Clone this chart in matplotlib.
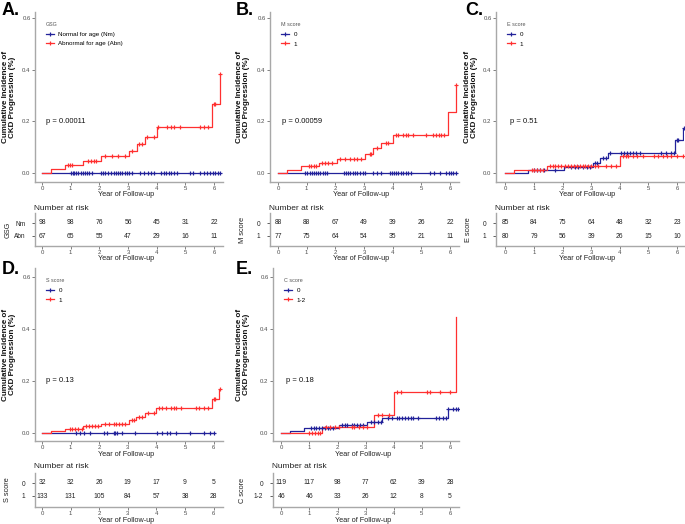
import numpy as np
import matplotlib
matplotlib.use("Agg")
import matplotlib.pyplot as plt
from matplotlib.lines import Line2D

plt.rcParams['font.family'] = ['Liberation Sans', 'DejaVu Sans']

W, H = 685, 524
BLUE = '#22229a'
RED = '#ff3030'
AXIS_GRAY = '#a8a8a8'
TICK_GRAY = '#4d4d4d'

years = [0, 1, 2, 3, 4, 5, 6]
y_ticks = [0.0, 0.2, 0.4, 0.6]
ylab_text = 'Cumulative Incidence of\nCKD Progression (%)'
xlab_text = 'Year of Follow-up'

# ---------------- Panel A : GSG ----------------
a_title = 'GSG'
a_labels = ['Normal for age (Nm)', 'Abnormal for age (Abn)']
a_table_labels = ['Nm', 'Abn']
a_pval = 'p = 0.00011'
a_blue_event_t = []
a_blue_event_v = []
a_blue_censor = [1.0, 1.07, 1.13, 1.2, 1.27, 1.35, 1.42, 1.5, 1.58, 1.65, 1.75, 2.05, 2.12, 2.2,
                 2.3, 2.4, 2.5, 2.58, 2.65, 2.72, 2.8, 2.88, 2.95, 3.05, 3.15, 3.42, 3.55, 3.7,
                 3.8, 3.9, 4.15, 4.25, 4.33, 4.42, 4.5, 4.6, 4.72, 5.15, 5.27, 5.52, 5.65, 5.75,
                 5.85, 5.95, 6.05, 6.15, 6.2]
a_red_event_t = [0.31, 0.80, 1.44, 2.05, 3.05, 3.30, 3.59, 4.00, 5.94, 6.20]
a_red_event_v = [0.015, 0.030, 0.046, 0.066, 0.087, 0.112, 0.140, 0.178, 0.266, 0.383]
a_red_censor = [0.9, 0.97, 1.05, 1.6, 1.7, 1.8, 1.9, 2.2, 2.45, 2.65, 2.9, 3.15, 3.38, 3.48,
                3.65, 3.9, 4.05, 4.35, 4.5, 4.6, 4.8, 5.5, 5.65, 5.8, 6.0, 6.05, 6.22]
a_risk_blue = [98, 98, 76, 56, 45, 31, 22]
a_risk_red = [67, 65, 55, 47, 29, 16, 11]

# ---------------- Panel B : M score ----------------
b_title = 'M score'
b_labels = ['0', '1']
b_table_labels = ['0', '1']
b_pval = 'p = 0.00059'
b_blue_event_t = []
b_blue_event_v = []
b_blue_censor = [0.95, 1.02, 1.1, 1.17, 1.25, 1.32, 1.4, 1.48, 1.56, 1.64, 1.72, 2.3, 2.37, 2.45,
                 2.52, 2.6, 2.68, 2.75, 2.85, 2.95, 3.05, 3.3, 3.45, 3.6, 3.9, 3.97, 4.05, 4.12,
                 4.2, 4.28, 4.36, 4.45, 4.55, 4.65, 5.3, 5.45, 5.65, 5.85, 5.95, 6.02, 6.1, 6.2]
b_red_event_t = [0.31, 0.80, 1.44, 2.05, 3.05, 3.30, 3.59, 4.00, 5.94, 6.20]
b_red_event_v = [0.013, 0.028, 0.040, 0.055, 0.073, 0.095, 0.117, 0.146, 0.235, 0.341]
b_red_censor = [1.07, 1.15, 1.25, 1.33, 1.55, 1.65, 1.75, 1.9, 2.15, 2.35, 2.5, 2.65, 2.75, 2.9,
                3.2, 3.25, 3.45, 3.75, 3.85, 4.1, 4.2, 4.35, 4.45, 4.55, 4.7, 5.15, 5.4, 5.5,
                5.6, 5.7, 5.8, 6.22]
b_risk_blue = [88, 88, 67, 49, 39, 26, 22]
b_risk_red = [77, 75, 64, 54, 35, 21, 11]

# ---------------- Panel C : E score ----------------
c_title = 'E score'
c_labels = ['0', '1']
c_table_labels = ['0', '1']
c_pval = 'p = 0.51'
c_blue_event_t = [0.80, 2.05, 3.05, 3.30, 3.59, 5.94, 6.20]
c_blue_event_v = [0.012, 0.024, 0.040, 0.059, 0.078, 0.127, 0.174]
c_blue_censor = [1.0, 1.1, 1.2, 1.35, 1.75, 2.3, 2.45, 2.55, 2.7, 2.85, 2.95, 3.15, 3.2, 3.4,
                 3.5, 3.65, 4.05, 4.15, 4.25, 4.35, 4.45, 4.55, 4.7, 5.45, 5.6, 5.8, 5.9, 6.0,
                 6.05, 6.25]
c_red_event_t = [0.31, 1.44, 4.00]
c_red_event_v = [0.0125, 0.028, 0.066]
c_red_censor = [0.92, 1.0, 1.1, 1.2, 1.3, 1.55, 1.65, 1.75, 1.85, 1.95, 2.1, 2.2, 2.3, 2.4, 2.5,
                2.6, 2.7, 2.8, 2.9, 3.0, 3.15, 3.25, 3.5, 3.7, 3.85, 4.1, 4.2, 4.3, 4.45, 4.6,
                4.8, 5.2, 5.35, 5.5, 5.65, 5.8, 6.0, 6.2]
c_risk_blue = [85, 84, 75, 64, 48, 32, 23]
c_risk_red = [80, 79, 56, 39, 26, 15, 10]

# ---------------- Panel D : S score ----------------
d_title = 'S score'
d_labels = ['0', '1']
d_table_labels = ['0', '1']
d_pval = 'p = 0.13'
d_blue_event_t = []
d_blue_event_v = []
d_blue_censor = [1.2, 1.33, 1.45, 1.68, 2.15, 2.27, 2.5, 2.56, 2.62, 2.8, 3.26, 4.02, 4.2, 4.37,
                 4.49, 4.67, 5.19, 5.66, 5.87, 6.01]
d_red_event_t = [0.31, 0.80, 1.44, 2.05, 3.05, 3.30, 3.59, 4.00, 5.94, 6.20]
d_red_event_v = [0.0077, 0.015, 0.026, 0.036, 0.049, 0.062, 0.077, 0.095, 0.131, 0.171]
d_red_censor = [0.98, 1.05, 1.15, 1.25, 1.38, 1.55, 1.65, 1.75, 1.85, 1.95, 2.2, 2.35, 2.5, 2.6,
                2.7, 2.8, 2.9, 3.15, 3.2, 3.4, 3.5, 3.7, 3.9, 4.1, 4.2, 4.35, 4.5, 4.6, 4.7,
                4.85, 5.4, 5.5, 5.65, 5.8, 6.0, 6.05, 6.22]
d_risk_blue = [32, 32, 26, 19, 17, 9, 5]
d_risk_red = [133, 131, 105, 84, 57, 38, 28]

# ---------------- Panel E : C score ----------------
e_title = 'C score'
e_labels = ['0', '1-2']
e_table_labels = ['0', '1-2']
e_pval = 'p = 0.18'
e_blue_event_t = [0.31, 0.80, 2.05, 3.05, 3.59, 5.94]
e_blue_event_v = [0.009, 0.019, 0.029, 0.042, 0.056, 0.092]
e_blue_censor = [1.05, 1.15, 1.25, 1.35, 1.45, 1.55, 1.65, 1.75, 1.85, 2.15, 2.25, 2.35, 2.5,
                 2.6, 2.7, 2.8, 2.9, 3.2, 3.3, 3.45, 3.55, 3.8, 3.95, 4.1, 4.2, 4.3, 4.4, 4.5,
                 4.6, 4.7, 4.85, 5.5, 5.6, 5.75, 5.85, 5.95, 6.1, 6.2, 6.3]
e_red_event_t = [1.44, 3.30, 4.00, 6.20]
e_red_event_v = [0.024, 0.070, 0.158, 0.446]
e_red_censor = [1.0, 1.1, 1.2, 1.3, 1.38, 1.6, 1.75, 1.9, 2.05, 2.5, 2.6, 2.75, 2.9, 3.05, 3.45,
                3.6, 3.85, 4.1, 4.25, 5.2, 5.3, 5.65, 6.0]
e_risk_blue = [119, 117, 98, 77, 62, 39, 28]
e_risk_red = [46, 46, 33, 26, 12, 8, 5]

panels = {
    'A': dict(title=a_title, labels=a_labels, tlabels=a_table_labels, pval=a_pval,
              blue=(a_blue_event_t, a_blue_event_v, a_blue_censor),
              red=(a_red_event_t, a_red_event_v, a_red_censor),
              risk=(a_risk_blue, a_risk_red)),
    'B': dict(title=b_title, labels=b_labels, tlabels=b_table_labels, pval=b_pval,
              blue=(b_blue_event_t, b_blue_event_v, b_blue_censor),
              red=(b_red_event_t, b_red_event_v, b_red_censor),
              risk=(b_risk_blue, b_risk_red)),
    'C': dict(title=c_title, labels=c_labels, tlabels=c_table_labels, pval=c_pval,
              blue=(c_blue_event_t, c_blue_event_v, c_blue_censor),
              red=(c_red_event_t, c_red_event_v, c_red_censor),
              risk=(c_risk_blue, c_risk_red)),
    'D': dict(title=d_title, labels=d_labels, tlabels=d_table_labels, pval=d_pval,
              blue=(d_blue_event_t, d_blue_event_v, d_blue_censor),
              red=(d_red_event_t, d_red_event_v, d_red_censor),
              risk=(d_risk_blue, d_risk_red)),
    'E': dict(title=e_title, labels=e_labels, tlabels=e_table_labels, pval=e_pval,
              blue=(e_blue_event_t, e_blue_event_v, e_blue_censor),
              red=(e_red_event_t, e_red_event_v, e_red_censor),
              risk=(e_risk_blue, e_risk_red)),
}

# layout in pixels
TOP_ROW = dict(top=12, bottom=182, y0=173, sy=258.3, t_top=213, t_bottom=246, row1=223, row2=236,
               nar_y=208, xlab_y=195, txlab_y=259, letter_y=2)
BOT_ROW = dict(top=268, bottom=441, y0=433, sy=260.0, t_top=473, t_bottom=507, row1=483, row2=496,
               nar_y=466, xlab_y=454, txlab_y=520, letter_y=261)
geom = {
    'A': dict(TOP_ROW, left=35, right=223, x0=42.0, sx=28.67, letter_x=2, ylab_x=9, tylab_x=8),
    'B': dict(TOP_ROW, left=270, right=459, x0=278.0, sx=28.67, letter_x=236, ylab_x=243, tylab_x=243),
    'C': dict(TOP_ROW, left=496, right=684, x0=505.4, sx=28.6, letter_x=465, ylab_x=471, tylab_x=469),
    'D': dict(BOT_ROW, left=35, right=223, x0=42.1, sx=28.57, letter_x=2, ylab_x=9, tylab_x=8),
    'E': dict(BOT_ROW, left=273, right=459, x0=281.3, sx=28.1, letter_x=236, ylab_x=243, tylab_x=243),
}

fig = plt.figure(figsize=(W / 100, H / 100), dpi=100)


def box(left, top, right, bottom):
    return [left / W, 1 - bottom / H, (right - left) / W, (bottom - top) / H]


def fx(px):
    return px / W


def fy(py):
    return 1 - py / H


def level(et, ev, t):
    i = int(np.searchsorted(np.asarray(et, dtype=float), t, side='right'))
    return 0.0 if i == 0 else ev[i - 1]


def style_axes(ax):
    for s in ['top', 'right']:
        ax.spines[s].set_visible(False)
    for s in ['left', 'bottom']:
        ax.spines[s].set_color(AXIS_GRAY)
        ax.spines[s].set_linewidth(1.0)
    ax.tick_params(axis='both', labelsize=4.3, colors=TICK_GRAY, length=2, width=0.5, pad=1.2)
    ax.patch.set_alpha(0)


for key, d in panels.items():
    g = geom[key]
    xlim = ((g['left'] - g['x0']) / g['sx'], (g['right'] - g['x0']) / g['sx'])
    ax = fig.add_axes(box(g['left'], g['top'], g['right'], g['bottom']))
    ax.set_xlim(*xlim)
    ax.set_ylim((g['y0'] - g['bottom']) / g['sy'], (g['y0'] - g['top']) / g['sy'])
    for col, (et, ev, cen) in [(BLUE, d['blue']), (RED, d['red'])]:
        end = max(list(et) + list(cen))
        xs = [0.0] + list(et) + [end]
        ys = [0.0] + list(ev) + [ev[-1] if ev else 0.0]
        ax.step(xs, ys, where='post', color=col, lw=0.9, zorder=3)
        cy = [level(et, ev, c) for c in cen]
        ax.plot(cen, cy, ls='none', marker='+', ms=3.4, mew=0.85, color=col, zorder=4)
    ax.set_xticks(years)
    ax.set_yticks(y_ticks)
    ax.set_yticklabels(['%.1f' % v for v in y_ticks])
    style_axes(ax)
    ax.text(0.15, 0.2, d['pval'], fontsize=5.5, va='center', ha='left', color='#111111')
    handles = [Line2D([0], [0], color=BLUE, lw=0.9, marker='+', ms=3.4, mew=0.85),
               Line2D([0], [0], color=RED, lw=0.9, marker='+', ms=3.4, mew=0.85)]
    bx = 11 / (g['right'] - g['left'])
    by = (g['bottom'] - (g['top'] + 10)) / (g['bottom'] - g['top'])
    leg = ax.legend(handles, d['labels'], title=d['title'], loc='upper left',
                    bbox_to_anchor=(bx, by), frameon=False, fontsize=4.5,
                    title_fontsize=3.9, handlelength=1.3, handletextpad=0.7,
                    labelspacing=0.7, borderaxespad=0, borderpad=0, alignment='left')
    leg.get_title().set_color('#555555')

    # risk table
    tax = fig.add_axes(box(g['left'], g['t_top'], g['right'], g['t_bottom']))
    tax.set_xlim(*xlim)
    rs = g['row2'] - g['row1']
    tax.set_ylim(1 - (g['t_bottom'] - g['row2']) / rs, 2 + (g['row1'] - g['t_top']) / rs)
    for row, counts in [(2, d['risk'][0]), (1, d['risk'][1])]:
        for yr, n in zip(years, counts):
            tax.text(yr, row, str(n), ha='center', va='center', fontsize=4.9, color='#222222')
    tax.set_xticks(years)
    tax.set_yticks([2, 1])
    tax.set_yticklabels(d['tlabels'])
    style_axes(tax)
    tax.tick_params(axis='y', labelsize=4.7, colors='#222222', pad=5, length=2)

    # texts
    cx = (g['left'] + g['right']) / 2 - 3
    fig.text(fx(cx), fy(g['xlab_y']), xlab_text, fontsize=5.2, ha='center', va='center', color='#222222')
    fig.text(fx(cx), fy(g['txlab_y']), xlab_text, fontsize=5.2, ha='center', va='center', color='#222222')
    fig.text(fx(g['left'] - 1), fy(g['nar_y']), 'Number at risk', fontsize=6.0, ha='left', va='center', color='#222222')
    fig.text(fx(g['ylab_x']), fy((g['top'] + g['bottom']) / 2), ylab_text, rotation=90,
             fontsize=5.8, fontweight='bold', ha='center', va='center', linespacing=1.05, color='#111111')
    fig.text(fx(g['tylab_x']), fy((g['t_top'] + g['t_bottom']) / 2), d['title'],
             rotation=90, fontsize=5.3, ha='center', va='center', color='#222222')
    fig.text(fx(g['letter_x']), fy(g['letter_y']), key + '.', fontsize=13, fontweight='bold',
             ha='left', va='top', color='#000000')

fig.savefig('out.png', dpi=100)
